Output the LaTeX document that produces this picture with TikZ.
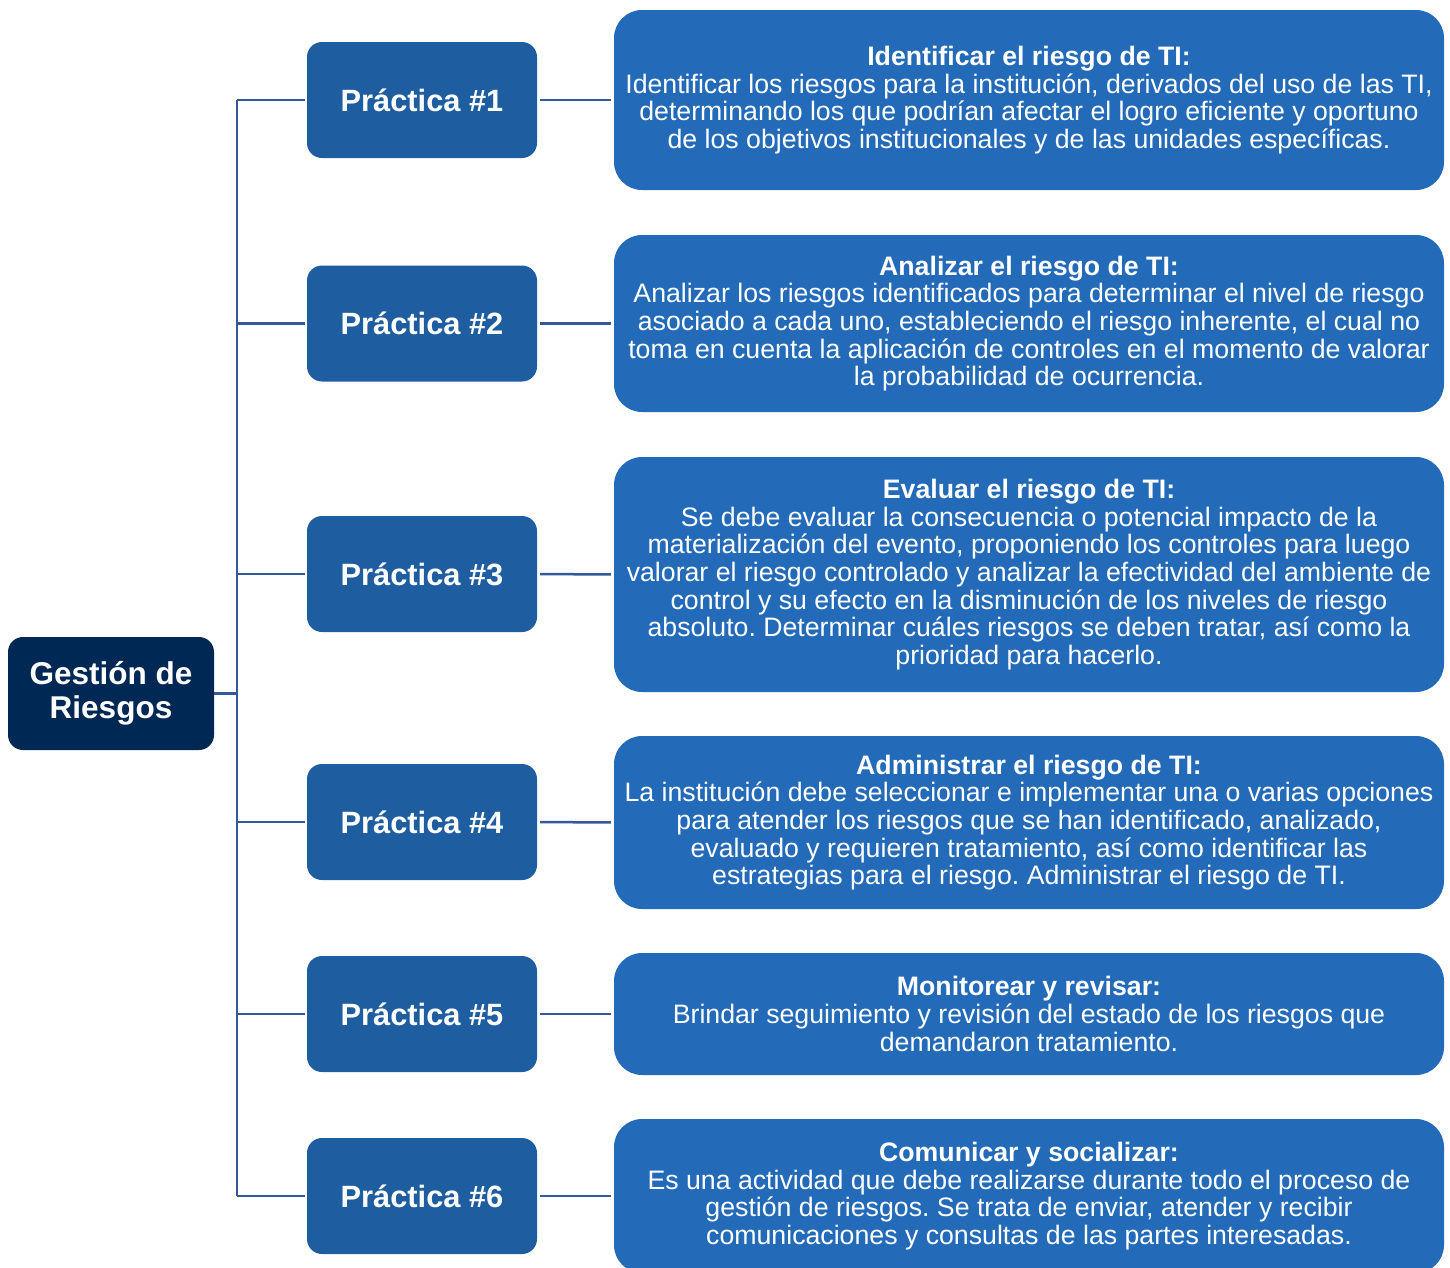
\documentclass[tikz,border=0pt]{standalone}
\usepackage{fontspec}
\setmainfont{Liberation Sans}
\frenchspacing
\definecolor{rootc}{RGB}{0,40,85}
\definecolor{pracc}{RGB}{31,93,161}
\definecolor{descc}{RGB}{35,106,185}
\definecolor{linec}{RGB}{52,88,156}
\begin{document}
\begin{tikzpicture}[x=1pt,y=-1pt,
  root/.style={fill=rootc, rounded corners=15pt, minimum width=206pt, minimum height=113pt, inner sep=0pt, text=white, font=\fontsize{31.5}{34}\selectfont\bfseries, align=center},
  prac/.style={fill=pracc, rounded corners=15pt, minimum width=230pt, minimum height=116pt, inner sep=0pt, text=white, font=\fontsize{30.8}{34}\selectfont\bfseries},
  desc/.style={fill=descc, rounded corners=28pt, minimum width=830pt, inner sep=0pt, text=white, font=\fontsize{26.7}{27.7}\selectfont, align=center},
  conn/.style={draw=linec, line width=2.5pt}]
\clip (0,0) rectangle (1450,1267);
\fill[white] (0,0) rectangle (1450,1267);

\node[root] (r) at (111,693.5) {Gestión de\\Riesgos};

\node[prac] (p1) at (422,100) {Práctica \#1};
\node[prac] (p2) at (422,323.5) {Práctica \#2};
\node[prac] (p3) at (422,574) {Práctica \#3};
\node[prac] (p4) at (422,822) {Práctica \#4};
\node[prac] (p5) at (422,1014) {Práctica \#5};
\node[prac] (p6) at (422,1196) {Práctica \#6};

\node[desc, minimum height=180pt] (d1) at (1029,100) {{\bfseries Identificar el riesgo de TI:}\\
Identificar los riesgos para la institución, derivados del uso de las TI,\\
determinando los que podrían afectar el logro eficiente y oportuno\\
de los objetivos institucionales y de las unidades específicas.};

\node[desc, minimum height=177pt] (d2) at (1029,323.5) {{\bfseries Analizar el riesgo de TI:}\\
Analizar los riesgos identificados para determinar el nivel de riesgo\\
asociado a cada uno, estableciendo el riesgo inherente, el cual no\\
toma en cuenta la aplicación de controles en el momento de valorar\\
la probabilidad de ocurrencia.};

\node[desc, minimum height=235pt] (d3) at (1029,574.5) {{\bfseries Evaluar el riesgo de TI:}\\
Se debe evaluar la consecuencia o potencial impacto de la\\
materialización del evento, proponiendo los controles para luego\\
valorar el riesgo controlado y analizar la efectividad del ambiente de\\
control y su efecto en la disminución de los niveles de riesgo\\
absoluto. Determinar cuáles riesgos se deben tratar, así como la\\
prioridad para hacerlo.};

\node[desc, minimum height=173pt] (d4) at (1029,822.5) {{\bfseries Administrar el riesgo de TI:}\\
La institución debe seleccionar e implementar una o varias opciones\\
para atender los riesgos que se han identificado, analizado,\\
evaluado y requieren tratamiento, así como identificar las\\
estrategias para el riesgo. Administrar el riesgo de TI.};

\node[desc, minimum height=122pt] (d5) at (1029,1014) {{\bfseries Monitorear y revisar:}\\
Brindar seguimiento y revisión del estado de los riesgos que\\
demandaron tratamiento.};

\node[desc, minimum height=154pt] (d6) at (1029,1196) {{\bfseries Comunicar y socializar:}\\
Es una actividad que debe realizarse durante todo el proceso de\\
gestión de riesgos. Se trata de enviar, atender y recibir\\
comunicaciones y consultas de las partes interesadas.};

\coordinate (j0) at (237,693.5);
\coordinate (j1) at (237,100);
\coordinate (j2) at (237,323.5);
\coordinate (j3) at (237,574);
\coordinate (j4) at (237,822);
\coordinate (j5) at (237,1014);
\coordinate (j6) at (237,1196);

\draw[conn] (r.east) -- (j0);
\draw[conn] (j1) -- (j6);
\foreach \i in {1,...,6}{
  \draw[conn, shorten >=2pt] (j\i) -- (p\i.west);
  \draw[conn, shorten <=3pt, shorten >=3pt] (p\i.east) -- (d\i.west);
}
\end{tikzpicture}
\end{document}
